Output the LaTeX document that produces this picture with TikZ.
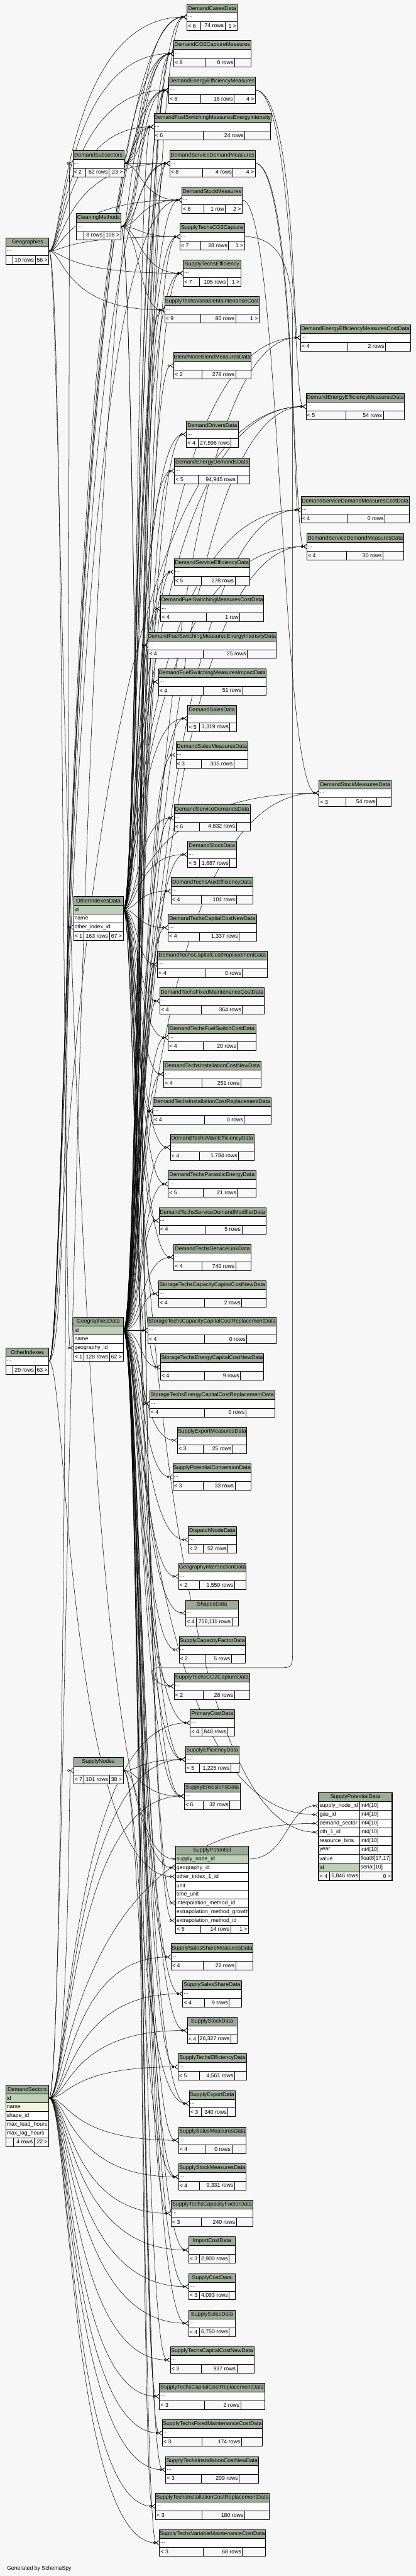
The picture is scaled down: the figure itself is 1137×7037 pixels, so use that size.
\documentclass[tikz,border=0pt]{standalone}
\usepackage{fontspec}
\setmainfont{Liberation Sans}
\usepackage{tikz}
\usetikzlibrary{arrows.meta,calc,positioning}
\definecolor{hdrgreen}{HTML}{9BAB96}
\definecolor{pkgreen}{HTML}{BED1B8}
\definecolor{idxyellow}{HTML}{F4F7DA}
\definecolor{canvas}{HTML}{F7F7F7}
\newcommand\tablefont{\fontsize{15}{18}\selectfont}
\tikzset{
  hdr/.style={draw, line width=1.1pt, fill=hdrgreen, minimum height=24pt, inner sep=0pt, font=\tablefont},
  rowbox/.style={draw, line width=1.1pt, minimum height=24pt, inner sep=0pt},
  cell/.style={inner sep=3pt, font=\tablefont},
  fk/.style={line width=0.9pt, -{Circle[open,length=7pt,width=7pt] Straight Barb[reversed,length=8pt,width=12pt]}},
  fkone/.style={line width=0.9pt, -{Circle[open,length=7pt,width=7pt] Bar[width=12pt]}}
}
\pgfdeclarelayer{canvaslayer}
\pgfdeclarelayer{edgelayer}
\pgfsetlayers{canvaslayer,edgelayer,main}
% table header: name, left, top, right, title
\newcommand\tbl[5]{\def\tabL{#2}\def\tabT{#3}\def\tabR{#4}%
  \node[hdr, minimum width={#4-#2}] (#1-h) at ({(#2+#4)/2},{#3+12}) {#5};}
% one row: name, top, text, fill
\newcommand\brow[4]{%
  \node[rowbox, fill=#4, minimum width={\tabR-\tabL}] (#1) at ({(\tabL+\tabR)/2},{#2+12}) {};
  \node[cell, anchor=west] at (#1.west) {#3};}
% footer: top, parents, rows, children, divider 1, divider 2
\newcommand\ftr[6]{%
  \draw[line width=1.1pt, fill=canvas] (\tabL,#1) rectangle (\tabR,#1+24);
  \draw[line width=1.1pt] (#5,#1) -- (#5,#1+24) (#6,#1) -- (#6,#1+24);
  \node[cell, anchor=west] at (\tabL,#1+12) {#2};
  \node[cell, anchor=east] at (#6,#1+12) {#3};
  \node[cell, anchor=east] at (\tabR,#1+12) {#4};}
% compact table
\newcommand\stbl[9]{\tbl{#1}{#2}{#3}{#4}{#5}\brow{#1-b}{#3+24}{...}{white}%
  \def\ftA{#6}\def\ftB{#7}\def\ftC{#8}\def\ftD{#9}\stblend}
\newcommand\stblend[1]{\ftr{\tabT+48}{\ftA}{\ftB}{\ftC}{\ftD}{#1}}
% column row of SupplyPotentialData
\newcommand\prow[4]{\brow{#1}{#2}{#3}{white}%
  \draw[line width=1.1pt] (982.5,#2) -- (982.5,#2+24);
  \node[cell, anchor=west] at (982.5,#2+12) {#4};}
% foreign keys from one parent
\newcommand\fkfrom[3]{\foreach \kid in {#3}{%
  \draw[fk] (#1) .. controls ($(#1)+(#2,0)$) and ($(#1 |- \kid.west)+(#2,0)$) .. (\kid.west);}}

\begin{document}
\begin{tikzpicture}[x=1pt,y=-1pt]
  \begin{pgfonlayer}{canvaslayer}
    \fill[canvas] (0,0) rectangle (1137,7037);
  \end{pgfonlayer}
  \useasboundingbox (0,0) rectangle (1137,7037);

  % left column
  \stbl{G}{16.7}{650}{133.4}{Geographies}{}{10 rows}{56 >}{35}{96}
  \stbl{OI}{16.7}{3682.2}{133.4}{OtherIndexes}{}{29 rows}{63 >}{35}{96}
  \tbl{DS}{16}{5695.3}{133.4}{DemandSectors}
  \brow{DS-id}{5719.3}{id}{pkgreen}
  \brow{DS-name}{5743.3}{name}{idxyellow}
  \brow{DS-shape}{5767.3}{shape\_id}{white}
  \brow{DS-lead}{5791.3}{max\_lead\_hours}{white}
  \brow{DS-lag}{5815.3}{max\_lag\_hours}{white}
  \ftr{5839.3}{}{4 rows}{22 >}{37}{92.8}

  % middle column
  \stbl{SUB}{199}{410.5}{339}{DemandSubsectors}{< 2}{62 rows}{23 >}{233.5}{298}
  \stbl{CM}{209}{582.5}{330}{CleaningMethods}{}{8 rows}{108 >}{229}{283.5}
  \tbl{OID}{201}{2448.8}{336.5}{OtherIndexesData}
  \brow{OID-id}{2472.8}{id}{pkgreen}
  \brow{OID-name}{2496.8}{name}{white}
  \brow{OID-oi}{2520.8}{other\_index\_id}{white}
  \ftr{2544.8}{< 1}{163 rows}{67 >}{229.9}{298.7}
  \tbl{GD}{201}{3598.3}{336.5}{GeographiesData}
  \brow{GD-id}{3622.3}{id}{pkgreen}
  \brow{GD-name}{3646.3}{name}{white}
  \brow{GD-geo}{3670.3}{geography\_id}{white}
  \ftr{3694.3}{< 1}{128 rows}{62 >}{229.9}{298.7}
  \stbl{SN}{201}{4800.5}{336.5}{SupplyNodes}{< 7}{101 rows}{38 >}{229.9}{298.7}

  % main column
  \stbl{DCD}{511}{10.5}{649}{DemandCasesData}{< 6}{74 rows}{1 >}{549}{615}
  \stbl{DCO2}{475}{110.5}{686}{DemandCO2CaptureMeasures}{< 8}{0 rows}{}{560}{641}
  \stbl{DEEM}{461}{210.5}{698}{DemandEnergyEfficiencyMeasures}{< 8}{18 rows}{4 >}{549}{640}
  \stbl{DFSMEI}{421}{310.5}{740}{DemandFuelSwitchingMeasuresEnergyIntensity}{< 6}{24 rows}{}{555}{669}
  \stbl{DSDM}{464}{410.5}{697.5}{DemandServiceDemandMeasures}{< 8}{4 rows}{4 >}{553}{637}
  \stbl{DSM}{497}{510.5}{662}{DemandStockMeasures}{< 6}{1 row}{2 >}{557}{616}
  \stbl{STC}{491.6}{610.5}{668.6}{SupplyTechsCO2Capture}{< 7}{28 rows}{1 >}{549}{625}
  \stbl{STE}{501}{710.5}{658}{SupplyTechsEfficiency}{< 7}{105 rows}{1 >}{544.6}{621.4}
  \stbl{STV}{450}{810.5}{708.4}{SupplyTechsVariableMaintenanceCost}{< 9}{80 rows}{1 >}{549}{644.6}
  \stbl{BNB}{475}{963}{686}{BlendNodeBlendMeasuresData}{< 2}{278 rows}{}{552.5}{644.6}
  \stbl{DDD}{509.8}{1150.5}{651}{DemandDriversData}{< 4}{27,596 rows}{}{541}{631.6}
  \stbl{DEDD}{477}{1250.4}{682}{DemandEnergyDemandsData}{< 5}{94,945 rows}{}{541}{647.5}
  \stbl{DSED}{475.7}{1526.5}{683}{DemandServiceEfficiencyData}{< 5}{278 rows}{}{550}{642.5}
  \stbl{DFSMC}{439.4}{1626.6}{720.8}{DemandFuelSwitchingMeasuresCostData}{< 4}{1 row}{}{563.4}{655.5}
  \stbl{DFSMEID}{404.6}{1726.4}{754}{DemandFuelSwitchingMeasuresEnergyIntensityData}{< 4}{25 rows}{}{554.7}{675.8}
  \stbl{DFSMID}{433}{1826.4}{727.3}{DemandFuelSwitchingMeasuresImpactData}{< 4}{51 rows}{}{555.4}{663.5}
  \stbl{DSaD}{512.7}{1926.5}{646}{DemandSalesData}{< 5}{3,319 rows}{}{544.6}{628}
  \stbl{DSaMD}{480.8}{2026.3}{678}{DemandSalesMeasuresData}{< 3}{335 rows}{}{550.4}{639.5}
  \stbl{DSDD}{475.7}{2198.2}{684.5}{DemandServiceDemandsData}{< 6}{4,832 rows}{}{544.6}{646}
  \stbl{DStD}{512.7}{2298.3}{646}{DemandStockData}{< 5}{1,687 rows}{}{544.6}{628}
  \stbl{DTAE}{467.7}{2398}{691.8}{DemandTechsAuxEfficiencyData}{< 4}{101 rows}{}{550.4}{646}
  \stbl{DTCCN}{459.7}{2498}{701.2}{DemandTechsCapitalCostNewData}{< 4}{1,337 rows}{}{544.6}{654}
  \stbl{DTCCR}{430.7}{2598.2}{730.2}{DemandTechsCapitalCostReplacementData}{< 4}{0 rows}{}{559.8}{662.8}
  \stbl{DTFMC}{437.2}{2698.3}{722.2}{DemandTechsFixedMaintenanceCostData}{< 4}{364 rows}{}{550.4}{662.8}
  \stbl{DTFSC}{459.7}{2798.4}{699.7}{DemandTechsFuelSwitchCostData}{< 4}{20 rows}{}{554.7}{649}
  \stbl{DTICN}{448}{2898.5}{712.8}{DemandTechsInstallationCostNewData}{< 4}{251 rows}{}{551.8}{658.4}
  \stbl{DTICR}{418.4}{2998.5}{741}{DemandTechsInstallationCostReplacementData}{< 4}{0 rows}{}{558.3}{667.8}
  \stbl{DTME}{465.5}{3098.3}{694}{DemandTechsMainEfficiencyData}{< 4}{1,784 rows}{}{544.6}{651.9}
  \stbl{DTPE}{459.7}{3198.3}{699.7}{DemandTechsParasiticEnergyData}{< 5}{21 rows}{}{554.7}{649}
  \stbl{DTSDM}{435}{3298.4}{726.6}{DemandTechsServiceDemandModifierData}{< 4}{5 rows}{}{559.8}{661.3}
  \stbl{DTSL}{475}{3398.5}{686}{DemandTechsServiceLinkData}{< 4}{740 rows}{}{551.8}{644.6}
  \stbl{STCCN}{433.6}{3498.2}{726.6}{StorageTechsCapacityCapitalCostNewData}{< 4}{2 rows}{}{559}{660.6}
  \stbl{STCCR}{404}{3598.3}{755.6}{StorageTechsCapacityCapitalCostReplacementData}{< 4}{0 rows}{}{559}{674.4}
  \stbl{STECN}{438.7}{3698.4}{720.8}{StorageTechsEnergyCapitalCostNewData}{< 4}{9 rows}{}{559}{657}
  \stbl{STECR}{409}{3798.5}{750.5}{StorageTechsEnergyCapitalCostReplacementData}{< 4}{0 rows}{}{559}{672.2}
  \stbl{SEMD}{485}{3898.2}{674.4}{SupplyExportMeasuresData}{< 3}{25 rows}{}{554.7}{636}
  \stbl{SPCD}{472.8}{3998.3}{686}{SupplyPotentialConversionData}{< 3}{33 rows}{}{554.7}{642.5}
  \stbl{DND}{514.8}{4170.3}{646}{DispatchNodeData}{< 2}{52 rows}{}{555.4}{622.9}
  \stbl{GID}{488}{4270.4}{673}{GeographyIntersectionData}{< 2}{1,550 rows}{}{544.6}{641}
  \stbl{ShD}{507.6}{4370.4}{652}{ShapesData}{< 4}{756,111 rows}{}{536.6}{633.7}
  \stbl{SCFD}{489.4}{4470.5}{671.4}{SupplyCapacityFactorData}{< 2}{5 rows}{}{559.8}{632.3}
  \stbl{STCD}{475.7}{4570.3}{683}{SupplyTechsCO2CaptureData}{< 2}{28 rows}{}{554.7}{641}
  \stbl{PCD}{520}{4670.3}{641}{PrimaryCostData}{< 4}{848 rows}{}{552.5}{621.4}
  \stbl{SED}{506.9}{4770.4}{653.3}{SupplyEfficiencyData}{< 5}{1,225 rows}{}{544.6}{630.8}
  \stbl{SEmD}{504}{4870.5}{657}{SupplyEmissionsData}{< 6}{32 rows}{}{555.4}{628}
  \tbl{SP}{480}{5042.5}{679.4}{SupplyPotential}
  \brow{SP-sn}{5066.5}{supply\_node\_id}{pkgreen}
  \brow{SP-geo}{5090.5}{geography\_id}{white}
  \brow{SP-oi}{5114.5}{other\_index\_1\_id}{white}
  \brow{SP-unit}{5138.5}{unit}{white}
  \brow{SP-tu}{5162.5}{time\_unit}{white}
  \brow{SP-im}{5186.5}{interpolation\_method\_id}{white}
  \brow{SP-emg}{5210.5}{extrapolation\_method\_growth}{white}
  \brow{SP-em}{5234.5}{extrapolation\_method\_id}{white}
  \ftr{5258.5}{< 5}{14 rows}{1 >}{549}{630.8}
  \stbl{SSSMD}{467.7}{5310}{691.8}{SupplySalesShareMeasuresData}{< 4}{22 rows}{}{554.7}{644.6}
  \stbl{SSSD}{499.6}{5410.5}{659.8}{SupplySalesShareData}{< 4}{9 rows}{}{559}{626.5}
  \stbl{SStD}{512}{5510.6}{647.5}{SupplyStockData}{< 4}{26,327 rows}{}{541}{630.8}
  \stbl{STED}{486.6}{5610.3}{674.4}{SupplyTechsEfficiencyData}{< 5}{4,561 rows}{}{544.6}{641}
  \stbl{SExD}{517}{5710.4}{642.5}{SupplyExportData}{< 3}{340 rows}{}{550.4}{622.9}
  \stbl{SSMD}{488}{5810.5}{673}{SupplySalesMeasuresData}{< 4}{0 rows}{}{559.8}{633.7}
  \stbl{SStMD}{488}{5910.5}{673}{SupplyStockMeasuresData}{< 4}{9,331 rows}{}{544.6}{641}
  \stbl{STCFD}{467.7}{6010.2}{691.8}{SupplyTechsCapacityFactorData}{< 3}{240 rows}{}{550.4}{646}
  \stbl{ICD}{515.6}{6110.3}{643.2}{ImportCostData}{< 3}{2,900 rows}{}{544.6}{626.5}
  \stbl{SCD}{515.6}{6210.4}{643.2}{SupplyCostData}{< 3}{4,093 rows}{}{544.6}{626.5}
  \stbl{SSD}{515.6}{6310.5}{643.2}{SupplySalesData}{< 4}{6,750 rows}{}{544.6}{626.5}
  \stbl{STCCND}{465.5}{6410.6}{694}{SupplyTechsCapitalCostNewData}{< 3}{937 rows}{}{550.4}{647.5}
  \stbl{STCCRD}{435.8}{6510.2}{723.7}{SupplyTechsCapitalCostReplacementData}{< 3}{2 rows}{}{558.3}{658.4}
  \stbl{STFMCD}{443.8}{6610.4}{717}{SupplyTechsFixedMaintenanceCostData}{< 3}{174 rows}{}{551.8}{659.8}
  \stbl{STICND}{453.2}{6710.5}{706.2}{SupplyTechsInstallationCostNewData}{< 3}{209 rows}{}{550.4}{654}
  \stbl{STICRD}{425}{6810.3}{736}{SupplyTechsInstallationCostReplacementData}{< 3}{180 rows}{}{551.8}{668.6}
  \stbl{STVMCD}{435.8}{6910.4}{725}{SupplyTechsVariableMaintenanceCostData}{< 3}{68 rows}{}{555.4}{662.8}

  % right column
  \stbl{DEEMC}{821.5}{886.5}{1121.8}{DemandEnergyEfficiencyMeasuresCostData}{< 4}{2 rows}{}{950.6}{1053.6}
  \stbl{DEEMD}{836.8}{1074.6}{1105.8}{DemandEnergyEfficiencyMeasuresData}{< 5}{54 rows}{}{945.6}{1047.8}
  \stbl{DSDMC}{823}{1356.9}{1119}{DemandServiceDemandMeasuresCostData}{< 4}{0 rows}{}{949}{1052}
  \stbl{DSDMD}{839}{1457}{1103.6}{DemandServiceDemandMeasuresData}{< 4}{30 rows}{}{947}{1047}
  \stbl{DSMD}{872.3}{2130.5}{1069.6}{DemandStockMeasuresData}{< 3}{54 rows}{}{945.6}{1029.7}
  \tbl{SPD}{871}{4897}{1071.7}{SupplyPotentialData}
  \prow{SPD-sn}{4921}{supply\_node\_id}{int4[10]}
  \prow{SPD-gau}{4945}{gau\_id}{int4[10]}
  \prow{SPD-ds}{4969}{demand\_sector}{int4[10]}
  \prow{SPD-oth}{4993}{oth\_1\_id}{int4[10]}
  \prow{SPD-rb}{5017}{resource\_bins}{int4[10]}
  \prow{SPD-yr}{5041}{year}{int4[10]}
  \prow{SPD-val}{5065}{value}{float8[17,17]}
  \prow{SPD-id}{5089}{}{serial[10]}
  \draw[line width=1.1pt, fill=pkgreen] (871,5089) rectangle (982.5,5113);
  \node[cell, anchor=west] at (871,5101) {id};
  \ftr{5113}{< 4}{5,846 rows}{0 >}{901.4}{982.5}
  \draw[line width=3pt] (871,4897) rectangle (1071.7,5137);

  \node[cell, anchor=west] (credit) at (16,7017) {Generated by SchemaSpy};

  \begin{pgfonlayer}{edgelayer}
    \fkfrom{G-b.east}{40}{DCD-b,DCO2-b,DEEM-b,DFSMEI-b,DSDM-b,DSM-b,STC-b,STE-b,STV-b,GD-geo,SP-geo}
    \fkfrom{OI-b.east}{48}{DCD-b,DCO2-b,DEEM-b,DFSMEI-b,DSDM-b,DSM-b,OID-oi,SP-oi,DEEMD-b}
    \fkfrom{DS-id.east}{55}{SUB-b,SN-b,DCO2-b,PCD-b,SED-b,SEmD-b,SPD-ds,SSSMD-b,SSSD-b,SStD-b,STED-b,SSMD-b,SStMD-b,STCFD-b,ICD-b,SCD-b,SSD-b,STCCND-b,STCCRD-b,STFMCD-b,STICND-b,STICRD-b,STVMCD-b}
    \fkfrom{SUB-b.east}{45}{DCD-b,DCO2-b,DEEM-b,DFSMEI-b,DSDM-b,DSM-b}
    \fkfrom{CM-b.east}{50}{DCO2-b,DEEM-b,DFSMEI-b,DSDM-b,DSM-b,STC-b,STE-b,STV-b,SP-im,SP-em}
    \fkfrom{OID-id.east}{38}{DCD-b,DCO2-b,DEEM-b,DFSMEI-b,DSDM-b,DSM-b,STC-b,STE-b,STV-b,DEEMC-b,DEEMD-b,DDD-b,DEDD-b,DSDMC-b,DSDMD-b,DSED-b,DFSMC-b,DFSMEID-b,DFSMID-b,DSaD-b,DSDD-b,DStD-b,DSMD-b,DTAE-b,DTCCN-b,DTCCR-b,DTFMC-b,DTFSC-b,DTICN-b,DTICR-b,DTME-b,DTPE-b,DTSDM-b,DTSL-b,STCCN-b,STCCR-b,STECN-b,STECR-b,SED-b,SEmD-b,SPD-oth}
    \fkfrom{GD-id.east}{48}{DCD-b,DCO2-b,DEEM-b,DSDM-b,STC-b,STE-b,STV-b,DEEMC-b,BNB-b,DEEMD-b,DDD-b,DEDD-b,DSDMC-b,DSDMD-b,DSED-b,DFSMC-b,DFSMEID-b,DFSMID-b,DSaD-b,DSaMD-b,DSMD-b,DSDD-b,DStD-b,DTAE-b,DTCCN-b,DTCCR-b,DTFMC-b,DTFSC-b,DTICN-b,DTICR-b,DTME-b,DTPE-b,DTSDM-b,DTSL-b,STCCN-b,STCCR-b,STECN-b,STECR-b,SEMD-b,SPCD-b,DND-b,GID-b,ShD-b,SCFD-b,STCD-b,PCD-b,SED-b,SEmD-b,SPD-gau,SSSMD-b,SSSD-b,SStD-b,STED-b,SExD-b,SSMD-b,SStMD-b,STCFD-b,ICD-b,SCD-b,SSD-b,STCCND-b,STCCRD-b,STFMCD-b,STICND-b,STICRD-b,STVMCD-b}
    \fkfrom{SN-b.east}{45}{SED-b,SEmD-b,SExD-b,SStMD-b}
    \draw[fkone] (SN-b.east) .. controls ($(SN-b.east)+(45,0)$) and ($(SN-b.east |- SP-sn.west)+(45,0)$) .. (SP-sn.west);
    \fkfrom{DEEM-b.east}{105}{DEEMC-b,DEEMD-b}
    \fkfrom{DSDM-b.east}{105}{DSDMC-b,DSDMD-b}
    \fkfrom{DSM-b.east}{105}{DSMD-b}
    \fkfrom{SP-sn.east}{105}{SPD-sn}
    \draw[fk] (STC-b.east) .. controls +(120,0) and (800,780) .. (800,900) -- (800,4500)
      .. controls (800,4556) .. (760,4556) -- (430,4556) .. controls (400,4556) and (420,4606) .. (STCD-b.west);
  \end{pgfonlayer}
\end{tikzpicture}
\end{document}
